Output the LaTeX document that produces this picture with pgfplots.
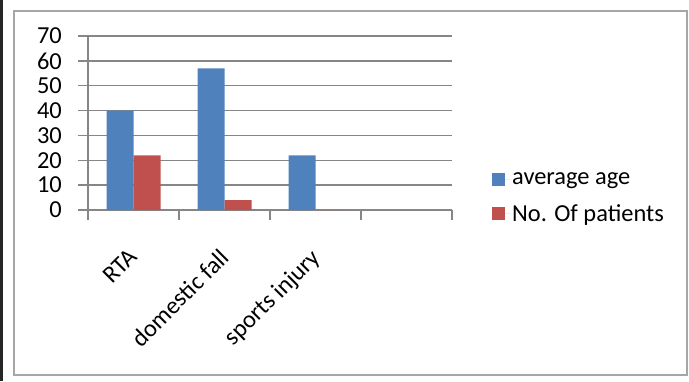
\documentclass[border=0pt]{standalone}
\usepackage{pgfplots}
\pgfplotsset{compat=1.18}
\usepackage{fontspec}
\setmainfont{Carlito}
\definecolor{xblue}{HTML}{4F81BD}
\definecolor{xred}{HTML}{C0504D}
\definecolor{gridc}{HTML}{868686}
\definecolor{framec}{HTML}{A6A6A6}
\begin{document}
\begin{tikzpicture}[x=1bp,y=1bp]
\useasboundingbox (0,0) rectangle (689,381);
\fill[black!85] (0,0) rectangle (3,381);
\draw[framec, line width=2bp] (14,6) rectangle (687,370);
\begin{axis}[
  at={(88bp,171bp)}, anchor=south west,
  scale only axis, width=364bp, height=174bp,
  xmin=-0.5, xmax=3.5, ymin=0, ymax=70,
  ybar=0pt, bar width=27bp,
  axis x line*=bottom, axis y line*=left,
  axis line style={gridc, line width=1.5bp, -},
  ymajorgrids, grid style={gridc, line width=1.5bp},
  tick align=outside, major tick length=10bp,
  tick style={gridc, line width=1.5bp},
  ytick={0,10,...,70},
  yticklabel style={anchor=east, inner sep=0pt, xshift=-16bp},
  xtick={-0.5,0.5,1.5,2.5,3.5}, xticklabels={},
  extra x ticks={0,1,2},
  extra x tick labels={RTA, domestic fall, sports injury},
  extra x tick style={major tick length=0pt, grid=none,
    xticklabel style={inner sep=0pt, anchor=north east, yshift=-37bp, xshift=-6bp, rotate=45}},
  font=\fontsize{24.5}{28}\selectfont,
  /pgf/number format/assume math mode=true,
  legend style={draw=none, fill=none, at={(1.1099,0.069)}, anchor=west,
    inner sep=0pt, row sep=14bp, font=\fontsize{24.5}{28}\selectfont,
    /tikz/every even column/.append style={column sep=0pt}},
  legend cell align=left,
  legend image code/.code={\fill[#1, draw=none] (0bp,-6.5bp) rectangle (13bp,6.5bp);
    \path (0bp,0bp) -- (18bp,0bp);},
]
\addplot[fill=xblue, draw=none] coordinates {(0,40) (1,57) (2,22)};
\addplot[fill=xred, draw=none] coordinates {(0,22) (1,4) (2,0)};
\legend{average age, No. Of patients}
\end{axis}
\end{tikzpicture}
\end{document}
